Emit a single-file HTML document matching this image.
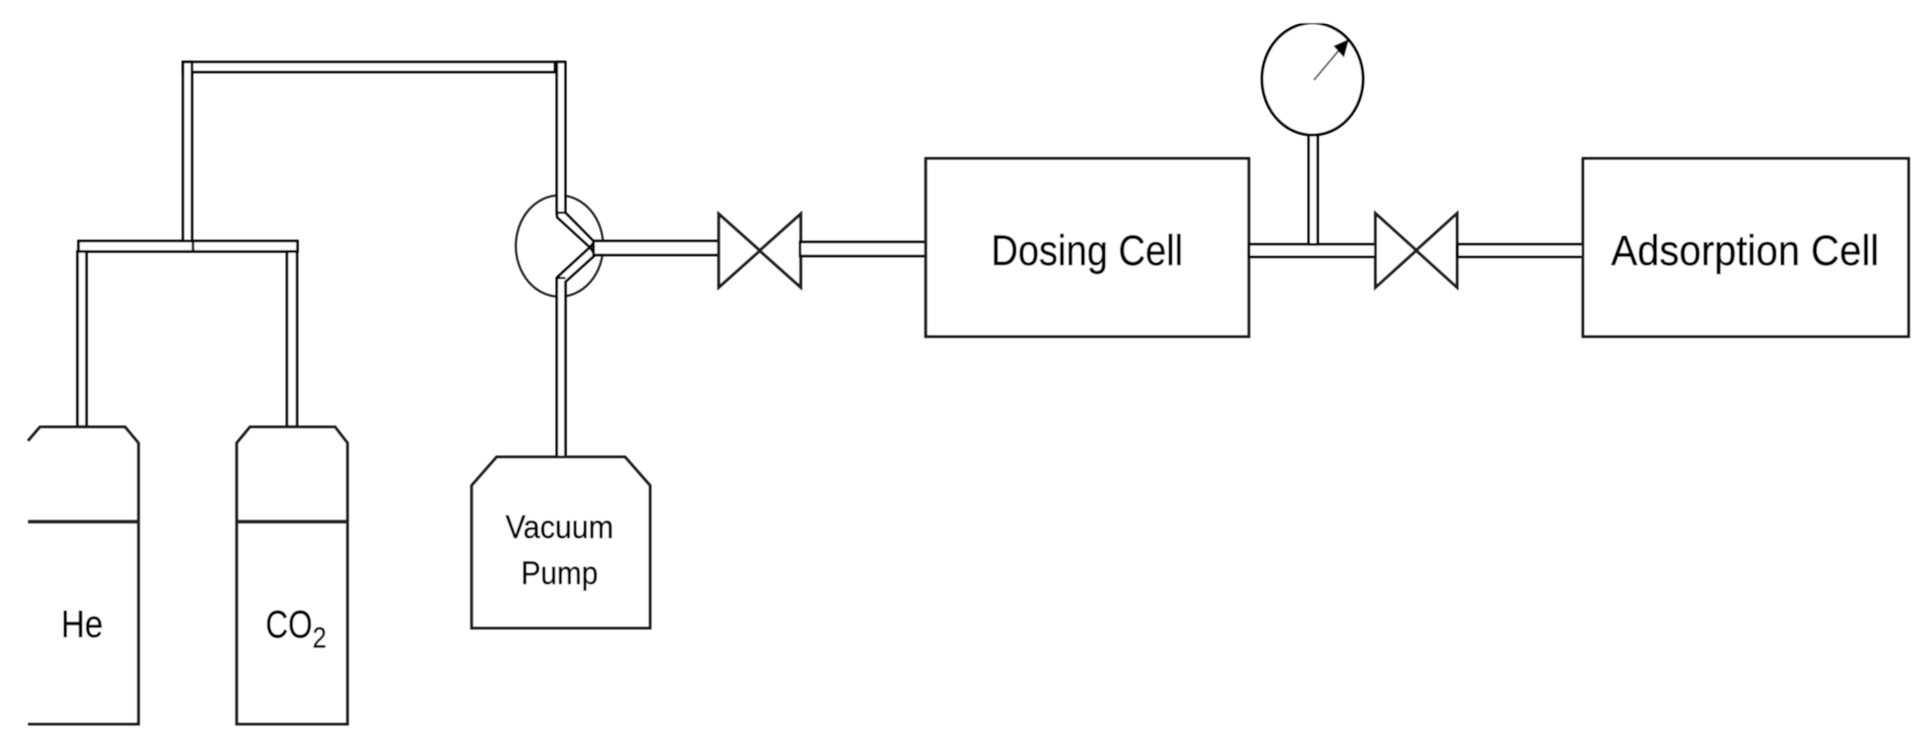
<!DOCTYPE html>
<html lang="en">
<head>
<meta charset="utf-8">
<title>Adsorption apparatus diagram</title>
<style>
html,body{margin:0;padding:0;background:#fff;width:1930px;height:747px;overflow:hidden}
svg{display:block}
text{font-family:"Liberation Sans",sans-serif;fill:#000;stroke:#000;stroke-width:.45}
.s{fill:#fff;stroke:#1c1c1c;stroke-width:3}
.p{fill:#fff;stroke:#000;stroke-width:2.6}
</style>
</head>
<body>
<svg width="1930" height="747" viewBox="0 0 1930 747" xmlns="http://www.w3.org/2000/svg">
<defs><filter id="b" x="-2%" y="-2%" width="104%" height="104%"><feGaussianBlur stdDeviation="0.5"/></filter></defs>
<g filter="url(#b)">
<!-- selector circle -->
<ellipse cx="559.5" cy="246" rx="43.7" ry="50.7" fill="none" stroke="#222" stroke-width="2.2"/>
<!-- top pipe run -->
<rect class="p" x="183" y="62" width="382" height="10"/>
<rect class="p" x="183" y="62" width="9" height="179"/>
<rect x="553.5" y="62" width="3.5" height="10" fill="#000"/>
<!-- vertical plus upper diagonal -->
<path class="p" d="M556.8 62H565.3V212.7L594 241.7L590 247.3L557.3 217.3L556.8 212.7Z"/>
<path d="M556.8 212.7H565.3" stroke="#000" stroke-width="2.2"/>
<!-- manifold -->
<rect class="p" x="78.5" y="241" width="219" height="10.5"/>
<path d="M193 241V251" stroke="#000" stroke-width="2.4"/>
<rect class="p" x="77.5" y="251.5" width="9" height="175"/>
<rect class="p" x="287" y="251.5" width="10" height="175"/>
<!-- He cylinder -->
<path class="s" d="M28 441L40 427H125L138.4 443V724H28"/>
<path d="M28 521.7H138" stroke="#222" stroke-width="3.8" fill="none"/>
<!-- CO2 cylinder -->
<path class="s" d="M236.8 443L250 427H335L347.4 443V724H236.8Z"/>
<path d="M237 521.7H347" stroke="#222" stroke-width="3.8" fill="none"/>
<!-- lower diagonal plus pump pipe -->
<path class="p" d="M590 247.3L557.3 277.3L556.8 278V457.5H565.5V281.7L595 255Z"/>
<path d="M556.8 278H565.5" stroke="#000" stroke-width="2.2"/>
<!-- Vacuum pump -->
<path class="s" d="M471.7 485.5L496.7 457H625L650 485.5V628H471.7Z"/>
<!-- pipe to valve 1 -->
<rect class="p" x="593.5" y="241" width="125" height="14"/>
<!-- valve 1 -->
<path class="s" d="M718.8 214L800.7 287.3V214L718.8 287.3Z"/>
<rect class="p" x="800" y="242" width="125.5" height="14"/>
<!-- dosing cell -->
<rect class="s" x="925.8" y="158.5" width="323" height="178"/>
<rect class="p" x="1249" y="244.3" width="126.5" height="12.5"/>
<!-- gauge stem -->
<rect class="p" x="1308.7" y="135" width="9" height="109.3"/>
<!-- valve 2 -->
<path class="s" d="M1375.5 213.5L1457 287.3V213.5L1375.5 287.3Z"/>
<rect class="p" x="1457.5" y="244.3" width="125.5" height="12.5"/>
<!-- adsorption cell -->
<rect class="s" x="1583" y="158.5" width="325.5" height="178"/>
<!-- gauge -->
<ellipse cx="1312.5" cy="79" rx="50.5" ry="56" fill="#fff" stroke="#000" stroke-width="2.8"/>
<rect x="1250" y="0" width="125" height="23" fill="#fff"/>
<path d="M1314 80L1340 49" stroke="#555" stroke-width="1.8" fill="none"/>
<path d="M1349 39L1333.5 46L1344 57.5Z" fill="#000"/>
<!-- labels -->
<text x="61" y="637" font-size="38" textLength="42" lengthAdjust="spacingAndGlyphs">He</text>
<text x="265.5" y="637.3" font-size="39" textLength="47" lengthAdjust="spacingAndGlyphs">CO</text>
<text x="312.5" y="647.3" font-size="29" textLength="14" lengthAdjust="spacingAndGlyphs">2</text>
<text x="505.5" y="538" font-size="32" textLength="108" lengthAdjust="spacingAndGlyphs">Vacuum</text>
<text x="521" y="584" font-size="32" textLength="77" lengthAdjust="spacingAndGlyphs">Pump</text>
<text x="991" y="265" font-size="43" textLength="192" lengthAdjust="spacingAndGlyphs">Dosing Cell</text>
<text x="1611" y="265" font-size="43" textLength="268" lengthAdjust="spacingAndGlyphs">Adsorption Cell</text>
</g>
</svg>
</body>
</html>
